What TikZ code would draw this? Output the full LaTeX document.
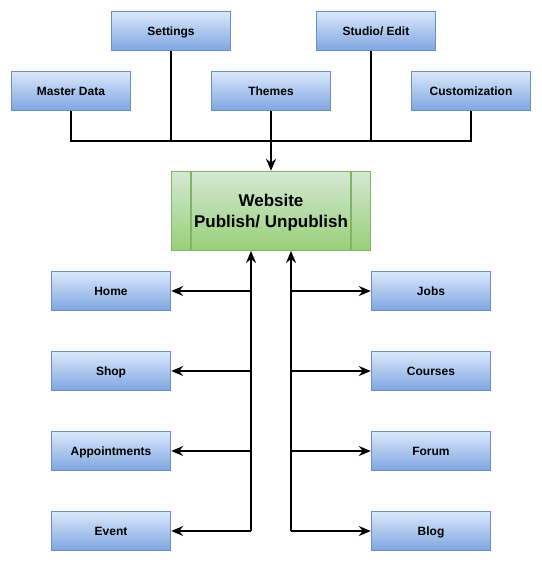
\documentclass[tikz,border=0pt]{standalone}
\usepackage{fontspec}
\setmainfont{Liberation Sans}
\usetikzlibrary{arrows.meta}
\definecolor{bluetop}{HTML}{DAE8FC}
\definecolor{bluebot}{HTML}{7EA6E0}
\definecolor{blueline}{HTML}{6C8EBF}
\definecolor{greentop}{HTML}{D5E8D4}
\definecolor{greenbot}{HTML}{97D077}
\definecolor{greenline}{HTML}{82B366}
\begin{document}
\begin{tikzpicture}[x=0.75pt,y=-0.75pt,
  bbox/.style={draw=blueline,line width=1.1pt,top color=bluetop,bottom color=bluebot,
    minimum width=89.25pt,minimum height=29.25pt,inner sep=0pt,
    text height=6.3pt,text depth=0pt,
    font=\bfseries\fontsize{9}{11}\selectfont},
  conn/.style={line width=1.1pt,draw=black},
  arr/.style={conn,-{Stealth[length=9pt,width=7.5pt,inset=3pt]}}]
\useasboundingbox (0,0) rectangle (542,562);
% top rows
\node[bbox] (settings) at (171,31) {Settings};
\node[bbox] (studio) at (376,31) {Studio/ Edit};
\node[bbox] (master) at (71,91) {Master Data};
\node[bbox] (themes) at (271,91) {Themes};
\node[bbox] (custom) at (471,91) {Customization};
% website
\node[draw=greenline,line width=1.1pt,top color=greentop,bottom color=greenbot,
  minimum width=149.25pt,minimum height=59.25pt,inner sep=0pt] (web) at (271,211) {};
\node[align=center,inner sep=0pt,font=\bfseries\fontsize{12.75}{16}\selectfont] (webtxt) at (271,212.5) {Website\\Publish/ Unpublish};
\draw[greenline,line width=1.1pt] (191,171) -- (191,251) (351,171) -- (351,251);
% bus
\coordinate (bus) at (271,141);
\draw[conn] (master.south) -- (71,141) -- (471,141) -- (custom.south);
\draw[conn] (settings.south) -- (171,141);
\draw[conn] (studio.south -| 371,0) -- (371,141);
\draw[conn] (themes.south) -- (bus);
\draw[arr,line width=1.8pt] (bus) -- (web.north);
% left boxes
\node[bbox] (home) at (111,291) {Home};
\node[bbox] (shop) at (111,371) {Shop};
\node[bbox] (appt) at (111,451) {Appointments};
\node[bbox] (event) at (111,531) {Event};
% right boxes
\node[bbox] (jobs) at (431,291) {Jobs};
\node[bbox] (courses) at (431,371) {Courses};
\node[bbox] (forum) at (431,451) {Forum};
\node[bbox] (blog) at (431,531) {Blog};
% left trunk
\coordinate (lt) at (251,251);
\coordinate (lb) at (251,531);
\draw[arr,line width=1.8pt] (lb) -- (lt);
\foreach \n/\y in {home/291,shop/371,appt/451,event/531}
  \draw[arr] (251,\y) -- (\n.east);
% right trunk
\coordinate (rt) at (291,251);
\coordinate (rb) at (291,531);
\draw[arr,line width=1.8pt] (rb) -- (rt);
\foreach \n/\y in {jobs/291,courses/371,forum/451,blog/531}
  \draw[arr] (291,\y) -- (\n.west);
\end{tikzpicture}
\end{document}
